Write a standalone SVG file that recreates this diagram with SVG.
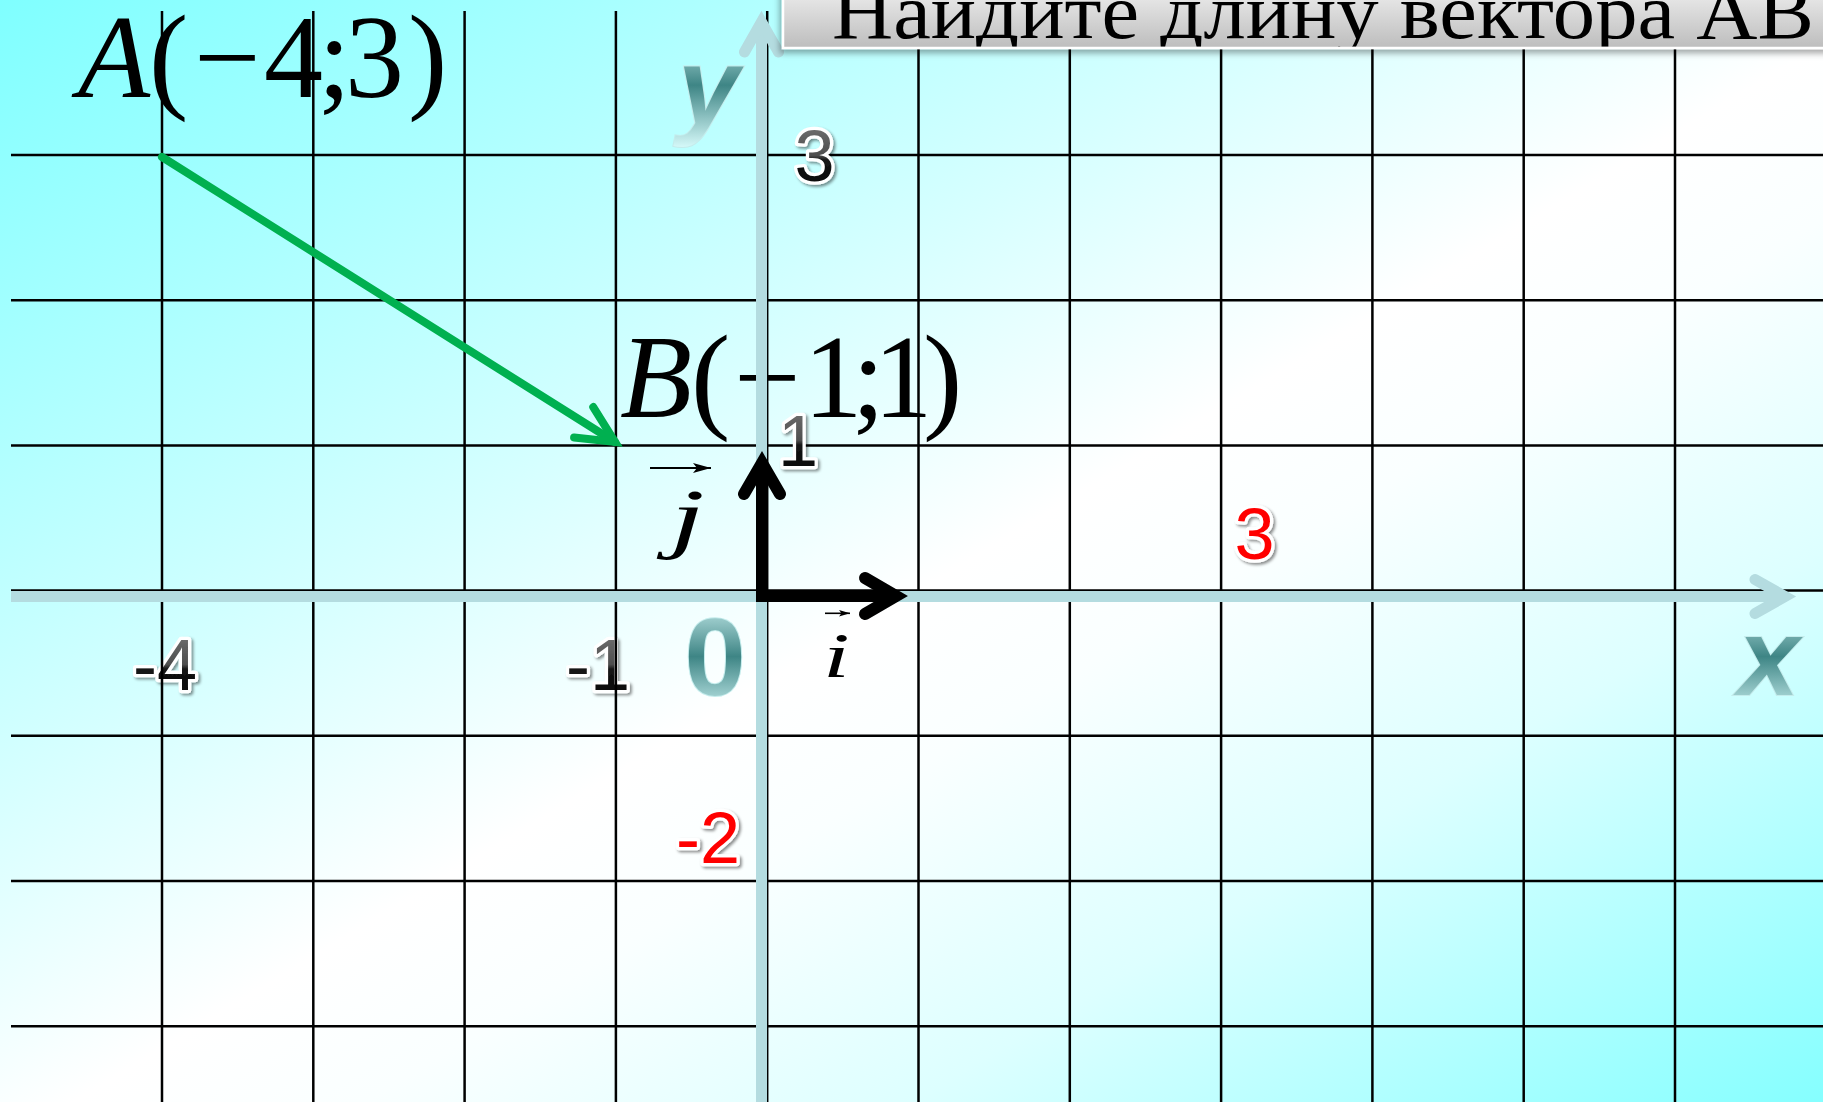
<svg xmlns="http://www.w3.org/2000/svg" width="1823" height="1102" viewBox="0 0 1823 1102">
<defs>
  <linearGradient id="bg" x1="0" y1="0" x2="1" y2="1">
    <stop offset="0" stop-color="#7FFFFF"/>
    <stop offset="0.36" stop-color="#D6FFFF"/>
    <stop offset="0.52" stop-color="#FFFFFF"/>
    <stop offset="0.6" stop-color="#FAFFFF"/>
    <stop offset="0.75" stop-color="#DDFFFF"/>
    <stop offset="1" stop-color="#85FFFF"/>
  </linearGradient>
  <linearGradient id="titleFill" x1="0" y1="0" x2="0" y2="1">
    <stop offset="0" stop-color="#F4F4F4"/>
    <stop offset="1" stop-color="#BDBDBD"/>
  </linearGradient>
  <linearGradient id="darkNum" x1="0" y1="0" x2="0" y2="1">
    <stop offset="0" stop-color="#7A7A7A"/>
    <stop offset="0.5" stop-color="#4E4E4E"/>
    <stop offset="0.56" stop-color="#151515"/>
    <stop offset="1" stop-color="#000000"/>
  </linearGradient>
  <linearGradient id="teal" x1="0" y1="0" x2="0" y2="1">
    <stop offset="0" stop-color="#D4F6F6"/>
    <stop offset="0.5" stop-color="#3E8585"/>
    <stop offset="1" stop-color="#D4F8F8"/>
  </linearGradient>
  <filter id="shadow" x="-20%" y="-20%" width="150%" height="150%">
    <feDropShadow dx="2" dy="2" stdDeviation="1.5" flood-color="#000" flood-opacity="0.45"/>
  </filter>
  <filter id="boxShadow" x="-5%" y="-20%" width="110%" height="160%">
    <feDropShadow dx="-2" dy="4" stdDeviation="3" flood-color="#000" flood-opacity="0.35"/>
  </filter>
  <clipPath id="titleClip">
    <rect x="783" y="-20" width="1060" height="66.5"/>
  </clipPath>
  <marker id="chevBlack" markerUnits="userSpaceOnUse" viewBox="-50 -30 70 60" markerWidth="70" markerHeight="60" refX="0" refY="0" orient="auto-start-reverse" overflow="visible">
    <path d="M-31,-18 L0,0 L-31,18" fill="none" stroke="#000" stroke-width="12" stroke-linecap="round" stroke-linejoin="miter"/>
  </marker>
  <marker id="chevGreen" markerUnits="userSpaceOnUse" viewBox="-50 -30 70 60" markerWidth="70" markerHeight="60" refX="0" refY="0" orient="auto" overflow="visible">
    <path d="M-37,-18 L0,0 L-37,18" fill="none" stroke="#00B050" stroke-width="8" stroke-linecap="round" stroke-linejoin="miter"/>
  </marker>
  <marker id="chevAxis" markerUnits="userSpaceOnUse" viewBox="-50 -30 70 60" markerWidth="70" markerHeight="60" refX="0" refY="0" orient="auto" overflow="visible">
    <path d="M-30,-17 L0,0 L-30,17" fill="none" stroke="#B4DCE0" stroke-width="11" stroke-linecap="round" stroke-linejoin="miter"/>
  </marker>
  <marker id="tinyArrow" markerUnits="userSpaceOnUse" viewBox="-20 -8 24 16" markerWidth="24" markerHeight="16" refX="0" refY="0" orient="auto" overflow="visible">
    <path d="M0,0 L-18,-5 L-14,0 L-18,5 Z" fill="#000"/>
  </marker>
  <marker id="tinyArrowS" markerUnits="userSpaceOnUse" viewBox="-12 -5 14 10" markerWidth="14" markerHeight="10" refX="0" refY="0" orient="auto" overflow="visible">
    <path d="M0,0 L-11,-3.2 L-8.5,0 L-11,3.2 Z" fill="#000"/>
  </marker>
  <style>
    .grid line { stroke: #000; stroke-width: 2.5; }
    .axis { fill: none; stroke: #B4DCE0; stroke-width: 11; }
    .serif { font-family: 'Liberation Serif', 'Times New Roman', serif; fill: #000; }
    .num { font-family: 'Liberation Sans', Arial, sans-serif; font-size: 72px; stroke: #FFFFFF; stroke-width: 6.5; paint-order: stroke; stroke-linejoin: round; filter: url(#shadow); }
    .dark { fill: url(#darkNum); }
    .red { fill: #FF0000; }
    .tealText { font-family: 'Liberation Sans', Arial, sans-serif; font-size: 110px; font-weight: bold; fill: url(#teal); stroke: #C4ECEC; stroke-width: 2; paint-order: stroke; }
  </style>
</defs>

<g id="background">
  <rect x="0" y="0" width="1823" height="1102" fill="url(#bg)"/>
</g>

<g id="label-x-minus4"><text class="num dark" x="133" y="689.5">-4</text></g>
<g id="label-x-minus1"><text class="num dark" x="566" y="689.5">-1</text></g>
<g id="label-A">
  <text class="serif" font-size="118" y="97"><tspan x="78" font-style="italic">A</tspan><tspan x="149">(</tspan><tspan x="194">−</tspan><tspan x="264">4</tspan><tspan x="318">;</tspan><tspan x="345">3</tspan><tspan x="408">)</tspan></text>
</g>

<g id="grid" class="grid">
  <line x1="162" y1="11" x2="162" y2="1102"/>
  <line x1="313.3" y1="11" x2="313.3" y2="1102"/>
  <line x1="464.6" y1="11" x2="464.6" y2="1102"/>
  <line x1="615.9" y1="11" x2="615.9" y2="1102"/>
  <line x1="767.2" y1="11" x2="767.2" y2="1102"/>
  <line x1="918.5" y1="11" x2="918.5" y2="1102"/>
  <line x1="1069.8" y1="11" x2="1069.8" y2="1102"/>
  <line x1="1221.1" y1="11" x2="1221.1" y2="1102"/>
  <line x1="1372.4" y1="11" x2="1372.4" y2="1102"/>
  <line x1="1523.7" y1="11" x2="1523.7" y2="1102"/>
  <line x1="1675" y1="11" x2="1675" y2="1102"/>
  <line x1="11" y1="155" x2="1823" y2="155"/>
  <line x1="11" y1="300.2" x2="1823" y2="300.2"/>
  <line x1="11" y1="445.4" x2="1823" y2="445.4"/>
  <line x1="11" y1="590.6" x2="1823" y2="590.6"/>
  <line x1="11" y1="735.8" x2="1823" y2="735.8"/>
  <line x1="11" y1="881" x2="1823" y2="881"/>
  <line x1="11" y1="1026.2" x2="1823" y2="1026.2"/>
</g>

<g id="label-B">
  <text class="serif" font-size="118" y="417"><tspan x="620" font-style="italic">B</tspan><tspan x="691">(</tspan><tspan x="734">−</tspan><tspan x="803.5">1</tspan><tspan x="852">;</tspan><tspan x="873.5">1</tspan><tspan x="923">)</tspan></text>
</g>

<g id="axes">
  <path class="axis" d="M11,596.5 H1785" marker-end="url(#chevAxis)"/>
  <path class="axis" d="M761.5,1102 V22" marker-end="url(#chevAxis)"/>
</g>

<g id="title">
  <rect x="783" y="-20" width="1060" height="68" fill="url(#titleFill)" stroke="#FFFFFF" stroke-width="2.5" filter="url(#boxShadow)"/>
  <text class="serif" x="832" y="38" font-size="78" textLength="982" lengthAdjust="spacingAndGlyphs" clip-path="url(#titleClip)">Найдите длину вектора АВ</text>
</g>

<g id="label-y-axis"><text class="tealText" x="678" y="123.7" font-style="italic">y</text></g>
<g id="label-x-axis"><text class="tealText" x="1738" y="695" font-style="italic">x</text></g>
<g id="label-origin"><text class="tealText" x="684.5" y="695">0</text></g>

<g id="label-y3"><text class="num dark" x="794.5" y="180.5">3</text></g>
<g id="label-y1"><text class="num dark" x="778" y="465.5">1</text></g>
<g id="label-red3"><text class="num red" x="1234.5" y="559">3</text></g>
<g id="label-red-minus2"><text class="num red" x="676" y="862.5">-2</text></g>

<g id="label-j">
  <path d="M650,468 H711" stroke="#000" stroke-width="2.2" fill="none" marker-end="url(#tinyArrow)"/>
  <text class="serif" transform="translate(670,543) scale(1.6,1)" font-size="78" font-style="italic">j</text>
</g>
<g id="label-i">
  <path d="M825,613.3 H850" stroke="#000" stroke-width="1.6" fill="none" marker-end="url(#tinyArrowS)"/>
  <text class="serif" transform="translate(823,677) scale(1.5,1)" font-size="64" font-style="italic">i</text>
</g>

<g id="connectors">
  <path id="vector-AB" d="M162,157 L615,442" fill="none" stroke="#00B050" stroke-width="8" stroke-linecap="round" marker-end="url(#chevGreen)"/>
  <path id="basis-ij" d="M762,463 V596 H896" fill="none" stroke="#000" stroke-width="12" stroke-linejoin="miter" marker-start="url(#chevBlack)" marker-end="url(#chevBlack)"/>
</g>
</svg>
